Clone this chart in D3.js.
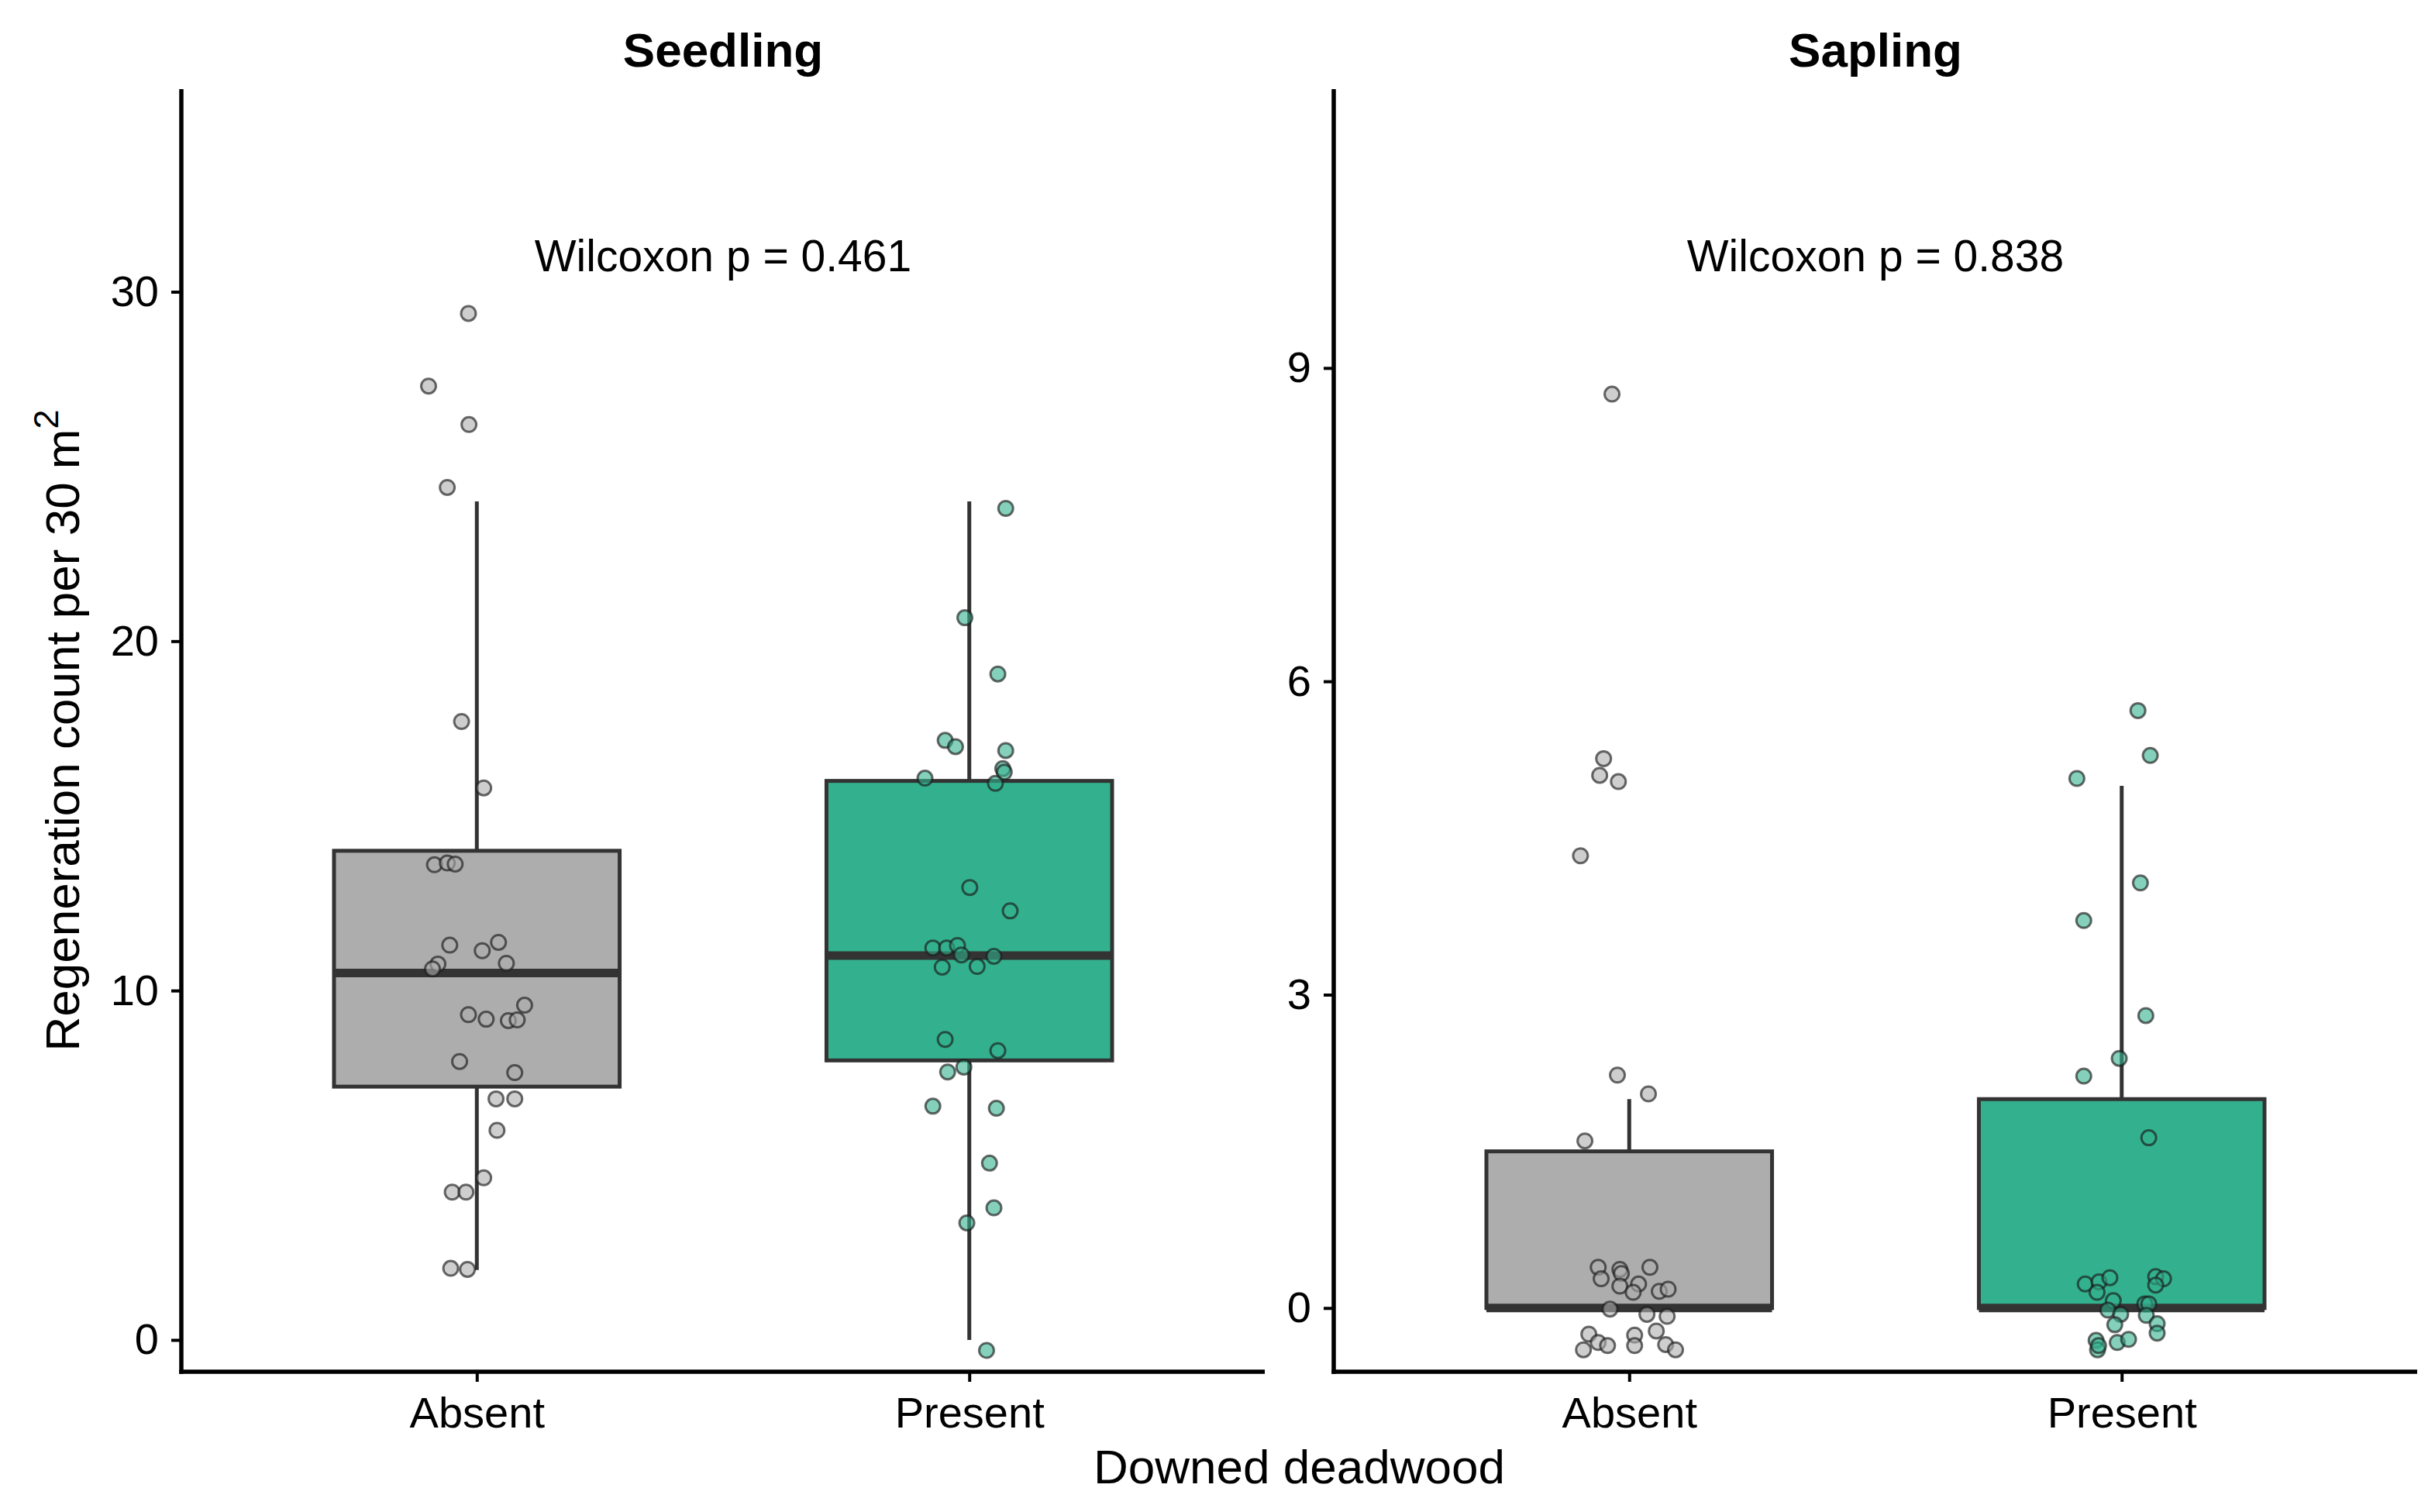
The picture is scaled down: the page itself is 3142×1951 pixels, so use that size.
<!DOCTYPE html>
<html>
<head>
<meta charset="utf-8">
<script src="https://cdn.jsdelivr.net/npm/d3@7"></script>
<style>
  body { margin: 0; background: #fff; }
  text { font-family: "Liberation Sans", Arial, sans-serif; fill: #000; }
</style>
</head>
<body>
<div id="chart"></div>
<script>
// categories and panels
var groups = ["Absent", "Present"];
var panelNames = ["Seedling", "Sapling"];
var pValues = ["0.461", "0.838"];

// box stats: lower whisker, q1, median, q3, upper whisker
var seedlingAbsentBox = [2, 7.25, 10.5, 14, 24];
var seedlingPresentBox = [0, 8, 11, 16, 24];
var saplingAbsentBox = [0, 0, 0, 1.5, 2];
var saplingPresentBox = [0, 0, 0, 2, 5];

// jittered points (value, jitter offset in category units)
var seedlingAbsentY = [29.38, 27.3, 26.2, 24.4, 17.7, 15.8, 13.6, 13.65, 13.62, 11.3, 11.14, 11.38, 10.78, 10.76, 10.62,
  9.58, 9.31, 9.18, 9.14, 9.16, 7.97, 7.65, 6.9, 6.9, 6.0, 4.64, 4.23, 4.23, 2.05, 2.02];
var seedlingAbsentJit = [-0.017, -0.098, -0.016, -0.06, -0.031, 0.014, -0.086, -0.06, -0.044, -0.055, 0.011, 0.044, 0.06, -0.079, -0.09,
  0.097, -0.017, 0.019, 0.064, 0.082, -0.035, 0.077, 0.039, 0.077, 0.041, 0.014, -0.05, -0.022, -0.053, -0.019];

var seedlingPresentY = [23.8, 20.67, 19.06, 17.16, 16.98, 16.87, 16.35, 16.25, 16.08, 15.93, 12.95, 12.28, 11.22, 11.22, 11.29,
  11.02, 10.98, 10.67, 10.69, 8.6, 8.28, 7.81, 7.67, 6.69, 6.63, 5.06, 3.78, 3.35, -0.3];
var seedlingPresentJit = [0.074, -0.009, 0.058, -0.049, -0.028, 0.074, 0.068, 0.071, -0.09, 0.053, 0.001, 0.083, -0.074, -0.046, -0.024,
  -0.016, 0.05, -0.055, 0.016, -0.049, 0.058, -0.011, -0.044, -0.074, 0.055, 0.041, 0.05, -0.005, 0.035];

var saplingAbsentY = [8.75, 5.26, 5.1, 5.04, 4.33, 2.23, 2.05, 1.6,
  0.39, 0.28, 0.37, 0.33, 0.21, 0.23, 0.15, 0.39, 0.16, 0.18, -0.01, -0.06, -0.08, -0.22, -0.25, -0.33, -0.36, -0.4, -0.26, -0.36, -0.35, -0.4];
var saplingAbsentJit = [-0.035, -0.052, -0.06, -0.022, -0.099, -0.024, 0.039, -0.09,
  -0.063, -0.057, -0.019, -0.016, -0.019, 0.019, 0.008, 0.042, 0.061, 0.079, -0.039, 0.036, 0.077, 0.055, -0.082, -0.063, -0.044, -0.093, 0.011, 0.011, 0.074, 0.094];

var saplingPresentY = [5.72, 5.29, 5.07, 4.07, 3.71, 2.8, 2.39, 2.22, 1.63,
  0.23, 0.25, 0.29, 0.15, 0.07, -0.02, -0.06, -0.16, 0.3, 0.28, 0.22, 0.04, 0.04, -0.07, -0.15, -0.24, -0.31, -0.4, -0.36, -0.33, -0.3];
var saplingPresentJit = [0.033, 0.058, -0.091, 0.038, -0.077, 0.049, -0.005, -0.077, 0.055,
  -0.074, -0.046, -0.024, -0.05, -0.017, -0.028, -0.002, -0.014, 0.069, 0.085, 0.069, 0.047, 0.055, 0.05, 0.072, 0.072, -0.052, -0.049, -0.047, -0.009, 0.014];

// axis ticks and limits
var seedlingTicks = [0, 10, 20, 30];
var saplingTicks = [0, 3, 6, 9];
var seedlingLimits = [-0.91, 35.8];
var saplingLimits = [-0.61, 11.67];

var fills = {"Absent": "#adadad", "Present": "#33b18e"};

var W = 3142, H = 1951;
var plotTop = 115, plotBottom = 1770;

var svg = d3.select("#chart").append("svg")
  .attr("width", W)
  .attr("height", H);

var panels = [
  {name: panelNames[0], p: pValues[0], x0: 234, x1: 1632, ticks: seedlingTicks, lim: seedlingLimits,
   boxes: [seedlingAbsentBox, seedlingPresentBox],
   pts: [[seedlingAbsentY, seedlingAbsentJit], [seedlingPresentY, seedlingPresentJit]]},
  {name: panelNames[1], p: pValues[1], x0: 1721, x1: 3119, ticks: saplingTicks, lim: saplingLimits,
   boxes: [saplingAbsentBox, saplingPresentBox],
   pts: [[saplingAbsentY, saplingAbsentJit], [saplingPresentY, saplingPresentJit]]}
];

panels.forEach(function(pn) {
  var x = d3.scalePoint().domain(groups).range([pn.x0, pn.x1]).padding(0.6);
  var step = x.step();
  var y = d3.scaleLinear().domain(pn.lim).range([plotBottom, plotTop]);
  var g = svg.append("g");
  var bw = step * 0.58;

  // boxes
  groups.forEach(function(grp, i) {
    var b = pn.boxes[i];
    var cx = x(grp);
    // whiskers
    g.append("line").attr("x1", cx).attr("x2", cx)
      .attr("y1", y(b[3])).attr("y2", y(b[4]))
      .attr("stroke", "#333").attr("stroke-width", 5);
    g.append("line").attr("x1", cx).attr("x2", cx)
      .attr("y1", y(b[1])).attr("y2", y(b[0]))
      .attr("stroke", "#333").attr("stroke-width", 5);
    g.append("rect")
      .attr("x", cx - bw / 2).attr("width", bw)
      .attr("y", y(b[3])).attr("height", y(b[1]) - y(b[3]))
      .attr("fill", fills[grp]).attr("stroke", "#333").attr("stroke-width", 5);
    g.append("line").attr("x1", cx - bw / 2).attr("x2", cx + bw / 2)
      .attr("y1", y(b[2])).attr("y2", y(b[2]))
      .attr("stroke", "#333").attr("stroke-width", 11);
  });

  // jittered points
  groups.forEach(function(grp, i) {
    var vals = pn.pts[i][0], jit = pn.pts[i][1];
    g.selectAll(null).data(d3.range(vals.length)).enter().append("circle")
      .attr("cx", function(k) { return x(grp) + jit[k] * step; })
      .attr("cy", function(k) { return y(vals[k]); })
      .attr("r", 9.5)
      .attr("fill", fills[grp]).attr("fill-opacity", 0.6)
      .attr("stroke", "#1a1a1a").attr("stroke-opacity", 0.65).attr("stroke-width", 3);
  });

  // axes
  var ya = g.append("g").attr("transform", "translate(" + pn.x0 + ",0)")
    .call(d3.axisLeft(y).tickValues(pn.ticks).tickSize(13).tickSizeOuter(0).tickPadding(16));
  var xa = g.append("g").attr("transform", "translate(0," + plotBottom + ")")
    .call(d3.axisBottom(x).tickSize(13).tickSizeOuter(0).tickPadding(19));
  [ya, xa].forEach(function(a) {
    a.select(".domain").attr("stroke", "#000").attr("stroke-width", 5.5);
    a.selectAll(".tick line").attr("stroke", "#000").attr("stroke-width", 4);
    a.selectAll(".tick text").attr("font-size", 56).attr("fill", "#000")
      .style("font-family", "'Liberation Sans', Arial, sans-serif");
  });
  // extend axis lines to the full panel
  ya.select(".domain").attr("d", "M0," + plotTop + "V" + (plotBottom + 2.75));
  xa.select(".domain").attr("d", "M" + (pn.x0 - 2.75) + ",0H" + pn.x1);

  // facet title
  g.append("text").attr("x", (pn.x0 + pn.x1) / 2).attr("y", 86)
    .attr("text-anchor", "middle").attr("font-size", 62).attr("font-weight", "bold")
    .text(pn.name);

  // test label
  g.append("text").attr("x", (pn.x0 + pn.x1) / 2).attr("y", 350)
    .attr("text-anchor", "middle").attr("font-size", 57)
    .text("Wilcoxon p = " + pn.p);
});

// axis titles
svg.append("text").attr("x", (234 + 3119) / 2).attr("y", 1914)
  .attr("text-anchor", "middle").attr("font-size", 62)
  .text("Downed deadwood");

var yt = svg.append("text")
  .attr("transform", "translate(102," + ((plotTop + plotBottom) / 2) + ") rotate(-90)")
  .attr("text-anchor", "middle").attr("font-size", 62);
yt.append("tspan").text("Regeneration count per 30 m");
yt.append("tspan").attr("font-size", 45).attr("dy", -27).text("2");
</script>
</body>
</html>
